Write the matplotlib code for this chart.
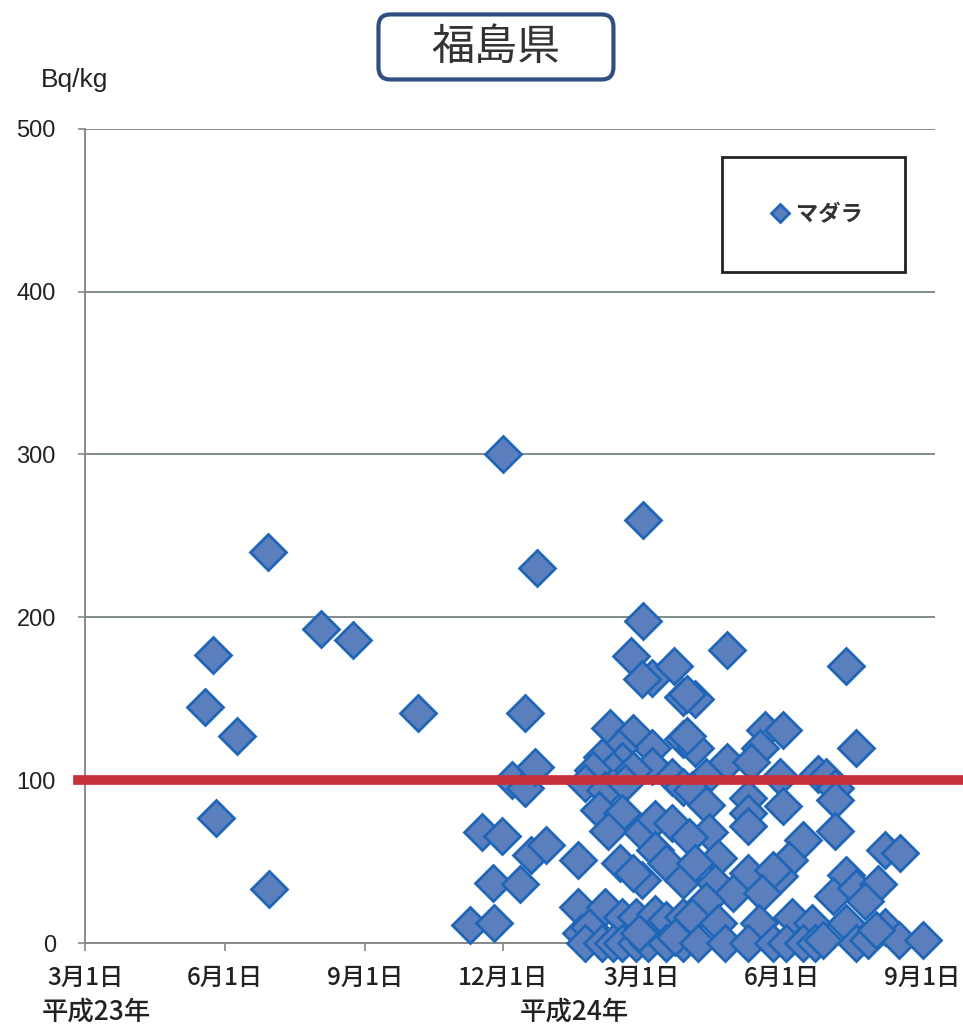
import numpy as np
import matplotlib
matplotlib.use('Agg')
import matplotlib.pyplot as plt
from matplotlib.patches import FancyBboxPatch, Rectangle

plt.rcParams['font.family'] = ['Noto Sans CJK JP', 'DejaVu Sans']

# data: days after 2011-03-01 and Bq/kg values
days = [79, 84, 86, 100, 120, 121, 155, 176, 219,
        253, 261, 268, 269, 274, 275, 281, 289, 289, 296, 297, 293, 303, 286,
        324, 324, 326,
        359, 373, 366, 387, 393, 345, 360, 373, 393, 351, 340, 353, 347, 334, 373, 360, 329, 342, 355, 386, 393,
        367, 367,
        338, 353, 344, 366, 375, 386, 352, 366, 375, 382, 393, 360, 342, 331, 353, 362, 375, 382, 393,
        329, 340, 347, 353, 362, 370, 382, 393, 364, 388,
        422, 401, 396, 447, 459, 444, 401, 396, 422, 438, 408, 457, 399, 436, 482,
        408, 436, 436, 459, 410, 472, 397, 416, 401, 436, 463, 456, 452, 414, 426, 445, 408, 399, 416, 443, 465, 478,
        403, 421, 436, 452, 461, 472, 480,
        500, 507, 487, 493,
        493, 493, 526, 536, 500, 492, 507, 521, 513, 500, 485, 507, 515, 526, 535, 551, 520]
values = [145, 177, 77, 127, 240, 33, 193, 186, 141,
          11, 68, 37, 12, 66, 300, 100, 95, 141, 108, 230, 54, 60, 36,
          51, 22, 6,
          176, 163, 162, 170, 151, 132, 129, 120, 125, 120, 114, 112, 106, 106, 109, 106, 98, 94, 98, 102, 96,
          260, 198,
          82, 80, 69, 68, 76, 74, 49, 39, 57, 49, 39, 43, 22, 10, 16, 16, 18, 14, 16,
          0, 0, 0, 0, 0, 0, 0, 0, 6, 4,
          180, 150, 153, 131, 131, 120, 120, 127, 111, 111, 102, 102, 94, 89, 104,
          85, 80, 72, 84, 68, 63, 65, 52, 49, 43, 51, 41, 45, 37, 31, 31, 26, 16, 12, 12, 16, 12,
          0, 0, 0, 0, 0, 0, 0,
          170, 120, 102, 95,
          88, 69, 57, 55, 42, 29, 34, 36, 26, 12, 2, 0, 2, 10, 2, 2, 8]

tick_dates = ['2011-03-01', '2011-06-01', '2011-09-01', '2011-12-01',
              '2012-03-01', '2012-06-01', '2012-09-01']
tick_labels = ['3月1日', '6月1日', '9月1日', '12月1日', '3月1日', '6月1日', '9月1日']
y_ticks = [0, 100, 200, 300, 400, 500]
limit = 100

base = np.datetime64('2011-03-01')
dates = base + np.array(days).astype('timedelta64[D]')

fig = plt.figure(figsize=(9.63, 10.32), dpi=100)
ax = fig.add_axes([0.0883, 0.0862, 0.883, 0.789])

ax.plot(dates, values, linestyle='none', marker='D', markersize=18.5,
        markerfacecolor='#5b7fbd', markeredgecolor='#1f66b8', markeredgewidth=2,
        label='マダラ', zorder=3, clip_on=False)

# 100 Bq/kg limit line
ax.axhline(limit, xmin=-0.008, xmax=1.04, color='#c8303c', linewidth=7,
           clip_on=False, zorder=4)

ax.set_ylim(0, 500)
ax.set_yticks(y_ticks)
ax.set_xlim(base, base + np.timedelta64(559, 'D'))
ax.set_xticks([np.datetime64(d) for d in tick_dates])
ax.set_xticklabels(tick_labels, fontsize=17.5, color='#222222', fontweight='medium')
ax.tick_params(axis='y', labelsize=17, labelcolor='#222222', length=5, pad=16, width=1.2)
ax.tick_params(axis='x', length=6, width=1.2, pad=10, labelcolor='#222222')
for lbl in ax.get_yticklabels():
    lbl.set_family(['Liberation Sans', 'DejaVu Sans'])
ax.tick_params(axis='both', color='#888888')

ax.grid(axis='y', color='#7f8a8a', linewidth=1.4)
ax.set_axisbelow(True)
for s in ['top', 'right']:
    ax.spines[s].set_visible(False)
ax.spines['left'].set_color('#888888')
ax.spines['bottom'].set_color('#888888')
ax.spines['left'].set_linewidth(1.4)
ax.spines['bottom'].set_linewidth(1.4)

fig.text(0.042, 0.922, 'Bq/kg', fontsize=19, color='#222222',
         family=['Liberation Sans', 'DejaVu Sans'], va='center')
fig.text(0.043, 0.012, '平成23年', fontsize=19, color='#222222', fontweight='medium')
fig.text(0.540, 0.012, '平成24年', fontsize=19, color='#222222', fontweight='medium')

# title box
title_box = FancyBboxPatch((0.393, 0.923), 0.244, 0.063, transform=fig.transFigure,
                           boxstyle='round,pad=0,rounding_size=0.012',
                           facecolor='white', edgecolor='#2f4f80', linewidth=3)
fig.patches.append(title_box)
fig.text(0.515, 0.954, '福島県', fontsize=31, color='#333333', ha='center', va='center')

# legend box
fig.patches.append(Rectangle((0.750, 0.736), 0.190, 0.112, transform=fig.transFigure,
                             facecolor='none', edgecolor='#222222', linewidth=2))
leg = ax.legend(loc='center', bbox_to_anchor=(0.847, 0.792), bbox_transform=fig.transFigure,
                frameon=False, fontsize=16, markerscale=0.5, handletextpad=0.2,
                handlelength=1.0)
for t in leg.get_texts():
    t.set_color('#333333')
    t.set_fontweight('bold')

fig.savefig('out.png', dpi=100, facecolor='white')
